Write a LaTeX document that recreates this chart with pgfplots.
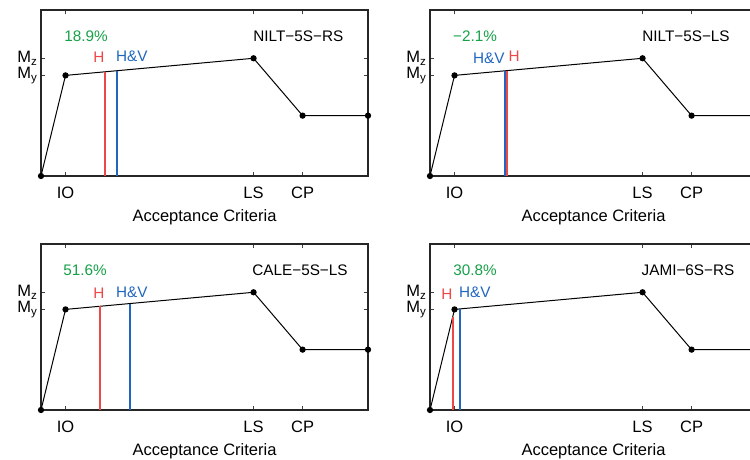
\documentclass[border=0pt]{standalone}
\usepackage{fontspec}
\setmainfont{Liberation Sans}
\usepackage{pgfplots}
\pgfplotsset{compat=1.18}

\definecolor{hred}{RGB}{236,72,72}
\definecolor{hvblue}{RGB}{32,102,192}
\definecolor{pctgreen}{RGB}{22,160,72}

% common look of the four capacity-curve panels
\pgfplotsset{
  capacity/.style={
    scale only axis, width=327pt, height=166pt,
    xmin=0, xmax=10, ymin=0, ymax=1.65,
    xtick={0.75,6.5,8}, xticklabels={IO,LS,CP},
    ytick={1,1.17}, yticklabels={M\textsubscript{y},M\textsubscript{z}},
    tick align=inside, major tick length=4pt,
    tick style={line width=0.6pt, color=black!75},
    axis line style={line width=1.2pt, color=black!85},
    xlabel={Acceptance Criteria},
    font=\fontsize{15.3}{17}\selectfont,
    tick label style={font=\fontsize{16.5}{18}\selectfont},
    xticklabel style={yshift=-7.5pt},
    label style={font=\fontsize{16.5}{18}\selectfont},
    xlabel style={yshift=-4pt},
    clip=false,
  },
  curve/.style={black, line width=1pt, mark=*, mark size=2.6pt, mark options={fill=black}},
  demandH/.style={draw=hred, line width=2pt},
  demandHV/.style={draw=hvblue, line width=2pt},
}

\begin{document}
\begin{tikzpicture}[x=1pt,y=1pt]
\useasboundingbox (0,0) rectangle (750,460);
\clip (0,0) rectangle (750,460);

% NILT-5S-RS
\begin{axis}[capacity, at={(41pt,284pt)}, anchor=south west]
\addplot[curve] coordinates {(0,0) (0.75,1) (6.5,1.17) (8,0.6) (10,0.6)};
\addplot[demandH] coordinates {(1.96,0) (1.96,1.0358)};
\addplot[demandHV] coordinates {(2.33,0) (2.33,1.0467)};
\node[text=hred] at (axis cs:1.77,1.18) {H};
\node[text=hvblue] at (axis cs:2.78,1.19) {H\&V};
\node[text=pctgreen] at (axis cs:1.38,1.39) {18.9\%};
\node at (axis cs:7.87,1.39) {NILT−5S−RS};
\end{axis}

% NILT-5S-LS
\begin{axis}[capacity, at={(430pt,284pt)}, anchor=south west]
\addplot[curve] coordinates {(0,0) (0.75,1) (6.5,1.17) (8,0.6) (10,0.6)};
\addplot[demandHV] coordinates {(2.291,0) (2.291,1.0456)};
\addplot[demandH] coordinates {(2.34,0) (2.34,1.0470)};
\node[text=hvblue] at (axis cs:1.80,1.17) {H\&V};
\node[text=hred] at (axis cs:2.57,1.19) {H};
\node[text=pctgreen] at (axis cs:1.38,1.39) {−2.1\%};
\node at (axis cs:7.83,1.39) {NILT−5S−LS};
\end{axis}

% CALE-5S-LS
\begin{axis}[capacity, at={(41pt,50pt)}, anchor=south west]
\addplot[curve] coordinates {(0,0) (0.75,1) (6.5,1.17) (8,0.6) (10,0.6)};
\addplot[demandH] coordinates {(1.79,0) (1.79,1.0307)};
\addplot[demandHV] coordinates {(2.714,0) (2.714,1.0581)};
\node[text=hred] at (axis cs:1.77,1.165) {H};
\node[text=hvblue] at (axis cs:2.78,1.175) {H\&V};
\node[text=pctgreen] at (axis cs:1.35,1.39) {51.6\%};
\node at (axis cs:7.92,1.39) {CALE−5S−LS};
\end{axis}

% JAMI-6S-RS
\begin{axis}[capacity, at={(430pt,50pt)}, anchor=south west]
\addplot[curve] coordinates {(0,0) (0.75,1) (6.5,1.17) (8,0.6) (10,0.6)};
\addplot[demandH] coordinates {(0.69,0) (0.69,0.92)};
\addplot[demandHV] coordinates {(0.9025,0) (0.9025,1.0045)};
\node[text=hred] at (axis cs:0.52,1.155) {H};
\node[text=hvblue] at (axis cs:1.37,1.17) {H\&V};
\node[text=pctgreen] at (axis cs:1.38,1.39) {30.8\%};
\node at (axis cs:7.89,1.39) {JAMI−6S−RS};
\end{axis}
\end{tikzpicture}
\end{document}
